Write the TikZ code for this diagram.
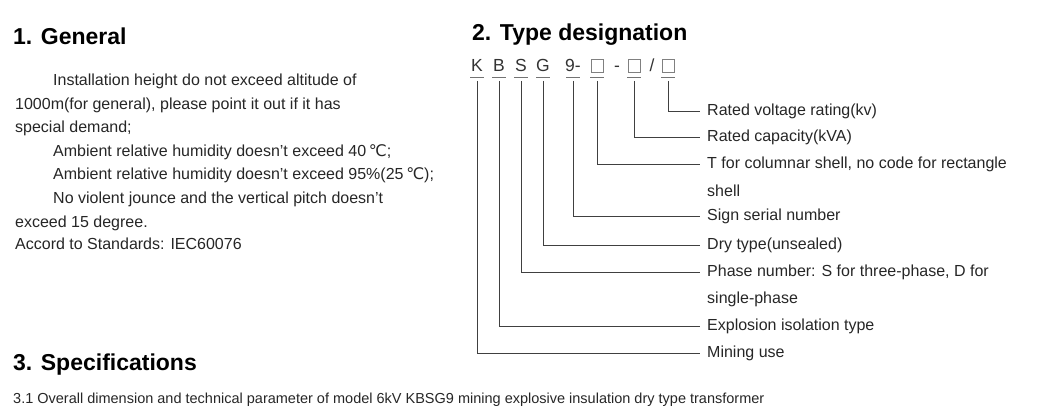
\documentclass[tikz,border=0pt]{standalone}
\usepackage{fontspec}
\setmainfont{Liberation Sans}
\newfontfamily\symfont{DejaVu Sans}
\usetikzlibrary{positioning}
\tikzset{
  head/.style={anchor=base west,font=\fontsize{23}{26}\selectfont\bfseries,inner sep=0pt},
  body/.style={anchor=base west,font=\fontsize{16}{19}\selectfont,inner sep=0pt,text=black!85},
  code/.style={anchor=base,font=\fontsize{17.5}{20}\selectfont,inner sep=0pt,text=black!80},
  lab/.style={anchor=west,font=\fontsize{16}{19}\selectfont,inner sep=0pt,text=black!85},
  cbox/.style={draw=black!50,minimum width=12pt,minimum height=13pt,inner sep=0pt,anchor=south},
  leg/.style={draw=black!75,line width=0.6pt}
}
\begin{document}
\begin{tikzpicture}[x=1pt,y=-1pt]
  \useasboundingbox (0,0) rectangle (1060,414);
  % general
  \node[head] (h1) at (13,45) {1. General};
  \node[body] (g1) at (53,86) {Installation height do not exceed altitude of};
  \node[body] (g2) at (15,110) {1000m(for general), please point it out if it has};
  \node[body] (g3) at (15,133) {special demand;};
  \node[body] (g4) at (53,157) {Ambient relative humidity doesn't exceed 40\,{\symfont ℃};};
  \node[body] (g5) at (53,180) {Ambient relative humidity doesn't exceed 95\%(25\,{\symfont ℃});};
  \node[body] (g6) at (53,204) {No violent jounce and the vertical pitch doesn't};
  \node[body] (g7) at (15,227) {exceed 15 degree.};
  \node[body] (g8) at (15,250) {Accord to Standards: IEC60076};
  % type designation
  \node[head] (h2) at (472,41) {2. Type designation};
  \node[code] (cK) at (477,72) {K};
  \node[code] (cB) at (499,72) {B};
  \node[code] (cS) at (521,72) {S};
  \node[code] (cG) at (543,72) {G};
  \node[code] (c9) at (573,72) {9-};
  \node[cbox] (b1) at (597,72) {};
  \node[code] (d1) at (617,72) {-};
  \node[cbox] (b2) at (634,72) {};
  \node[code] (d2) at (652,72) {/};
  \node[cbox] (b3) at (668,72) {};
  \coordinate (ul) at (0,77);
  \coordinate (vl) at (0,81);
  \foreach \c/\t/\y in {b3/{Rated voltage rating(kv)}/111,
                        b2/{Rated capacity(kVA)}/137,
                        b1/{T for columnar shell, no code for rectangle}/164,
                        c9/{Sign serial number}/216,
                        cG/{Dry type(unsealed)}/245,
                        cS/{Phase number: S for three-phase, D for}/272,
                        cB/{Explosion isolation type}/326,
                        cK/{Mining use}/353}{
    \draw[black!55] ([xshift=-7pt]\c.south|-ul) -- ++(14,0);
    \coordinate (e-\c) at (700,\y);
    \draw[leg] (\c.south|-vl) |- (e-\c);
    \node[lab] (l-\c) at (707,\y) {\t};
  }
  \node[lab] (l-b1b) at (707,191) {shell};
  \node[lab] (l-cSb) at (707,299) {single-phase};
  % specifications
  \node[head] (h3) at (13,370) {3. Specifications};
  \node[body,font=\fontsize{14.5}{17}\selectfont] (s1) at (13,403) {3.1 Overall dimension and technical parameter of model 6kV KBSG9 mining explosive insulation dry type transformer};
\end{tikzpicture}
\end{document}
